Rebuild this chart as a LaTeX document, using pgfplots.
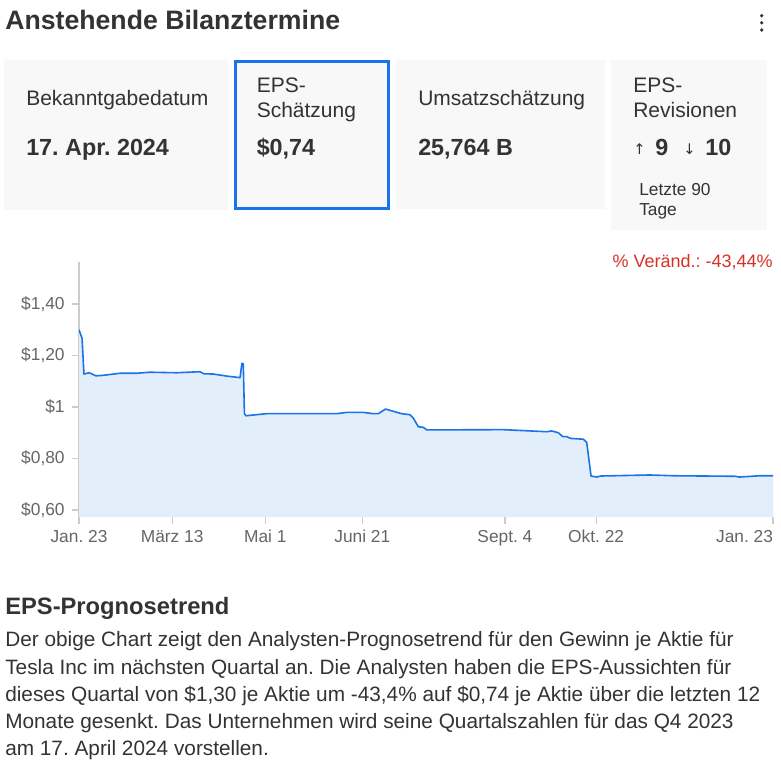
\documentclass[border=0pt]{standalone}
\usepackage{pgfplots}
\pgfplotsset{compat=1.18}
\usepackage{pgfplotstable}
\usepackage{fontspec}
\setmainfont{Liberation Sans}
\newfontfamily\symfont{DejaVu Sans}
\frenchspacing
\definecolor{textdark}{RGB}{51,51,51}
\definecolor{cardbg}{RGB}{248,248,248}
\definecolor{bluebd}{RGB}{26,115,232}
\definecolor{lineblue}{RGB}{26,115,232}
\definecolor{areafill}{RGB}{227,238,251}
\definecolor{labelgrey}{RGB}{102,102,102}
\definecolor{axisgrey}{RGB}{204,204,204}
\definecolor{redtxt}{RGB}{217,48,37}

\pgfplotstableread{
day eps
0 1.300
1.6 1.267
2.6 1.128
5.4 1.133
8.9 1.121
12.8 1.123
21.6 1.131
30.3 1.131
37.3 1.135
51.4 1.133
63.6 1.137
65.7 1.129
70.6 1.128
77.7 1.120
84.7 1.114
85.7 1.170
86.4 1.167
87.0 0.975
87.8 0.966
98.7 0.974
135.5 0.974
140.8 0.979
149.5 0.979
154.8 0.974
157.4 0.974
161.2 0.992
169.7 0.974
174.1 0.970
175.9 0.956
178.5 0.923
181.1 0.921
182.9 0.911
223.2 0.912
246.0 0.904
248.6 0.907
252.1 0.900
254.4 0.885
256.5 0.885
258.6 0.878
265.2 0.875
267.0 0.863
269.3 0.732
272.3 0.728
274.4 0.732
300.3 0.736
312.6 0.733
345.0 0.731
347.3 0.728
358.2 0.733
365.0 0.733
}\epsdata

\begin{document}
\begin{tikzpicture}[x=0.75pt,y=-0.75pt]
\path[use as bounding box, fill=white] (0,0) rectangle (781,765);

% header
\node[anchor=base west, inner sep=0, text=textdark, font=\fontsize{20pt}{24pt}\selectfont\bfseries] at (5,29.3) {Anstehende Bilanztermine};
\fill[textdark] (761.7,15.7) circle (1.8) (761.7,22.8) circle (1.8) (761.7,30) circle (1.8);

% cards
\fill[cardbg] (4,60) rectangle (228,210);
\fill[cardbg] (234,60) rectangle (390,210);
\draw[bluebd, line width=2.25pt] (235.5,61.5) rectangle (388.5,208.5);
\fill[cardbg] (396,60) rectangle (605,209);
\fill[cardbg] (611,60) rectangle (767,230);

\begin{scope}[every node/.style={anchor=base west, inner sep=0, text=textdark}]
\node[font=\fontsize{15.75pt}{19pt}\selectfont] at (26,105) {Bekanntgabedatum};
\node[font=\fontsize{17.5pt}{21pt}\selectfont\bfseries] at (26,155) {17. Apr. 2024};
\node[font=\fontsize{15.75pt}{19pt}\selectfont] at (256.5,92) {EPS-};
\node[font=\fontsize{15.75pt}{19pt}\selectfont] at (256.5,117) {Schätzung};
\node[font=\fontsize{17.5pt}{21pt}\selectfont\bfseries] at (256.5,155) {\$0,74};
\node[font=\fontsize{15.75pt}{19pt}\selectfont] at (418,105) {Umsatzschätzung};
\node[font=\fontsize{17.5pt}{21pt}\selectfont\bfseries] at (418,155) {25,764 B};
\node[font=\fontsize{15.75pt}{19pt}\selectfont] at (633,92) {EPS-};
\node[font=\fontsize{15.75pt}{19pt}\selectfont] at (633,117) {Revisionen};
\node[font=\fontsize{11pt}{13pt}\selectfont\symfont] at (633,154) {↑};
\node[font=\fontsize{17.5pt}{21pt}\selectfont\bfseries] at (655,155) {9};
\node[font=\fontsize{11pt}{13pt}\selectfont\symfont] at (683,154) {↓};
\node[font=\fontsize{17.5pt}{21pt}\selectfont\bfseries] at (705,155) {10};
\node[font=\fontsize{13pt}{15pt}\selectfont] at (639,195) {Letzte 90};
\node[font=\fontsize{13pt}{15pt}\selectfont] at (639,215) {Tage};
\end{scope}

% change label
\node[anchor=base east, inner sep=0, text=redtxt, font=\fontsize{13.5pt}{16pt}\selectfont] at (773,267) {\% Veränd.: -43,44\%};

% chart
\begin{axis}[
  at={(59.25pt,-387.75pt)}, anchor=south west,
  scale only axis, width=520.5pt, height=191.25pt,
  xmin=0, xmax=365, ymin=0.5728, ymax=1.563,
  axis x line*=bottom, axis y line*=left,
  x axis line style={draw=none},
  y axis line style={draw=axisgrey, line width=1.5pt, -},
  tick align=outside, major tick length=5.25pt,
  tick style={draw=axisgrey, line width=1pt},
  xtick={0,49,98,149,224,272,365},
  xticklabels={Jan. 23, März 13, Mai 1, Juni 21, Sept. 4, Okt. 22, \makebox[0pt][r]{Jan. 23}},
  ytick={0.6,0.8,1,1.2,1.4},
  yticklabels={{\$0,60},{\$0,80},{\$1},{\$1,20},{\$1,40}},
  ticklabel style={font=\fontsize{13pt}{15pt}\selectfont, text=labelgrey},
  yticklabel style={xshift=-2pt},
  xticklabel style={yshift=-1.2pt},
]
\addplot[fill=areafill, draw=none] table[x=day,y=eps] {\epsdata} \closedcycle;
\addplot[lineblue, line width=1.2pt, line join=round] table[x=day,y=eps] {\epsdata};
\end{axis}

% section text
\node[anchor=base west, inner sep=0, text=textdark, font=\fontsize{17.8pt}{21pt}\selectfont\bfseries] at (5,614) {EPS-Prognosetrend};
\begin{scope}[every node/.style={anchor=base west, inner sep=0, text=textdark, font=\fontsize{15.6pt}{20pt}\selectfont}]
\node at (5,646.7) {Der obige Chart zeigt den Analysten-Prognosetrend für den Gewinn je Aktie für};
\node at (5,674) {Tesla Inc im nächsten Quartal an. Die Analysten haben die EPS-Aussichten für};
\node at (5,701.5) {dieses Quartal von \$1,30 je Aktie um -43,4\% auf \$0,74 je Aktie über die letzten 12};
\node at (5,728.5) {Monate gesenkt. Das Unternehmen wird seine Quartalszahlen für das Q4 2023};
\node at (5,755.5) {am 17. April 2024 vorstellen.};
\end{scope}
\end{tikzpicture}
\end{document}
